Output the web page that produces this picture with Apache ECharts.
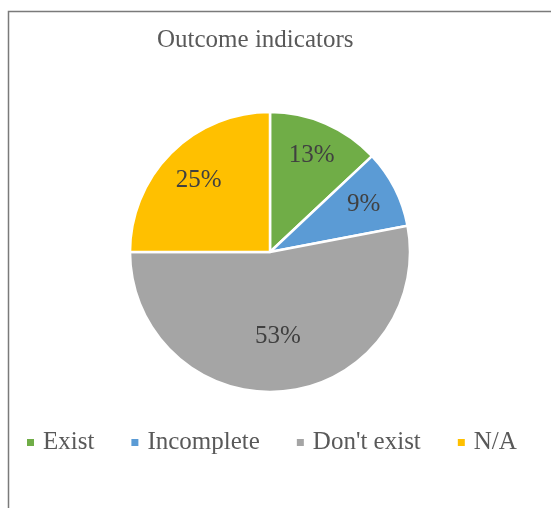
<!DOCTYPE html>
<html>
<head>
<meta charset="utf-8">
<script src="https://cdn.jsdelivr.net/npm/echarts@6/dist/echarts.min.js"></script>
<style>
  html, body { margin: 0; padding: 0; background: #fff; }
  #chart { width: 551px; height: 508px; }
</style>
</head>
<body>
<div id="chart"></div>
<script>
// slices, clockwise from 12 o'clock
const categories = ['Exist', 'Incomplete', "Don't exist", 'N/A']
const shares = [13, 9, 53, 25]
const colors = ['#70AD47', '#5B9BD5', '#A5A5A5', '#FFC000']

const font = "'Liberation Serif', 'Times New Roman', serif"

const pieData = categories.map((name, i) => ({
  name: name,
  value: shares[i],
  itemStyle: {color: colors[i]}
}))

// invisible copies of the pie, only used to push the % labels further out
function labelLayer(radius, showFor) {
  return {
    type: 'pie',
    silent: true,
    center: [270, 252],
    radius: radius,
    startAngle: 90,
    clockwise: true,
    itemStyle: {color: 'rgba(0,0,0,0)', borderWidth: 0},
    emphasis: {disabled: true},
    labelLine: {show: false},
    data: categories.map((name, i) => ({
      name: name,
      value: shares[i],
      label: {show: showFor.indexOf(name) >= 0}
    })),
    label: {
      position: 'inside',
      formatter: '{c}%',
      fontFamily: font,
      fontSize: 25,
      color: '#404040'
    }
  }
}

const chart = echarts.init(document.getElementById('chart'))
chart.setOption({
  backgroundColor: '#fff',
  animation: false,
  graphic: [{
    type: 'rect',
    shape: {x: 8.5, y: 11.5, width: 700, height: 700},
    style: {fill: 'none', stroke: '#7a7a7a', lineWidth: 1.5},
    silent: true
  }],
  title: {
    text: 'Outcome indicators',
    left: 157,
    top: 28,
    padding: 0,
    textStyle: {fontFamily: font, fontSize: 25, fontWeight: 'normal', color: '#595959'}
  },
  legend: {
    data: categories,
    left: 25,
    top: 430,
    padding: 0,
    itemWidth: 9,
    itemHeight: 9,
    itemGap: 35,
    icon: 'rect',
    textStyle: {fontFamily: font, fontSize: 25, color: '#595959', padding: [0, 0, 0, 3]}
  },
  series: [
    {
      type: 'pie',
      center: [270, 252],
      radius: 140,
      startAngle: 90,
      clockwise: true,
      itemStyle: {borderColor: '#fff', borderWidth: 2.5},
      label: {show: false},
      labelLine: {show: false},
      emphasis: {disabled: true},
      data: pieData
    },
    labelLayer(204, ['Exist', 'Incomplete']),
    labelLayer(196, ['N/A']),
    labelLayer(164, ["Don't exist"])
  ]
})
</script>
</body>
</html>
